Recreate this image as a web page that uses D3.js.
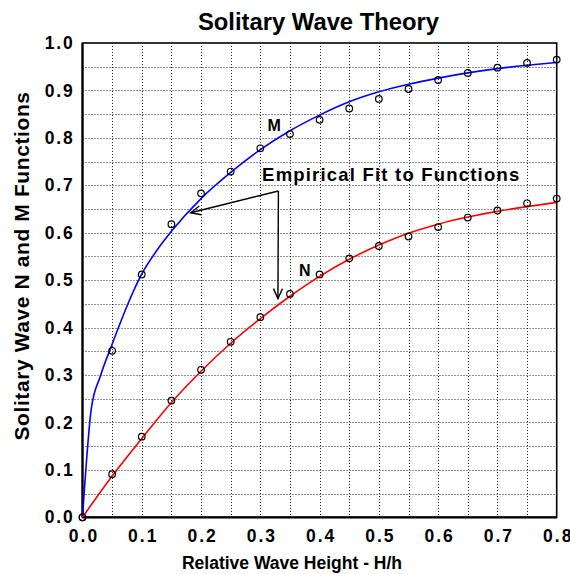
<!DOCTYPE html>
<html>
<head>
<meta charset="utf-8">
<script src="https://cdn.jsdelivr.net/npm/d3@7/dist/d3.min.js"></script>
<style>
  html, body { margin: 0; padding: 0; background: #fff; }
  svg { display: block; font-family: "Liberation Sans", Arial, Helvetica, sans-serif; }
</style>
</head>
<body>
<svg id="chart" width="570" height="574"></svg>
<script>
// ---- data ----
const xTicks = [0.0, 0.1, 0.2, 0.3, 0.4, 0.5, 0.6, 0.7, 0.8];
const yTicks = [0.0, 0.1, 0.2, 0.3, 0.4, 0.5, 0.6, 0.7, 0.8, 0.9, 1.0];
const gridStep = 0.05;

// measured points (open circles)
const measX = [0, 0.05, 0.1, 0.15, 0.2, 0.25, 0.3, 0.35, 0.4, 0.45, 0.5, 0.55, 0.6, 0.65, 0.7, 0.75, 0.8];
const measM = [0, 0.351, 0.512, 0.618, 0.683, 0.729, 0.778, 0.808, 0.838, 0.862, 0.882, 0.903, 0.922, 0.937, 0.948, 0.958, 0.965];
const measN = [0, 0.091, 0.170, 0.246, 0.311, 0.370, 0.422, 0.471, 0.512, 0.546, 0.572, 0.592, 0.612, 0.632, 0.647, 0.662, 0.672];

// empirical fit curves
const fitMX = [0, 0.015, 0.03, 0.05, 0.075, 0.1, 0.125, 0.15, 0.2, 0.25, 0.3, 0.35, 0.4, 0.45, 0.5, 0.55, 0.6, 0.65, 0.7, 0.75, 0.8];
const fitM  = [0, 0.23, 0.297, 0.365, 0.445, 0.513, 0.562, 0.603, 0.672, 0.727, 0.775, 0.815, 0.848, 0.876, 0.897, 0.913, 0.926, 0.937, 0.946, 0.953, 0.959];
const fitNX = [0, 0.05, 0.1, 0.15, 0.2, 0.25, 0.3, 0.35, 0.4, 0.45, 0.5, 0.55, 0.6, 0.65, 0.7, 0.75, 0.8];
const fitN  = [0, 0.087, 0.166, 0.242, 0.308, 0.367, 0.419, 0.466, 0.508, 0.544, 0.574, 0.599, 0.618, 0.633, 0.645, 0.655, 0.664];

// annotation anchors in data units
const labelM = [0.3235, 0.827];
const labelN = [0.375, 0.520];
const noteText = "Empirical Fit to Functions";
const notePos = [0.303, 0.723];
const arrowVertex = [0.3305, 0.688];
const arrowTipM = [0.1825, 0.642];
const arrowTipN = [0.3297, 0.461];

// ---- layout ----
const W = 570, H = 574;
const pLeft = 82.5, pRight = 556.7, pTop = 43, pBottom = 517.3;

const svg = d3.select("#chart");
const x = d3.scaleLinear().domain([0, 0.8]).range([pLeft, pRight]);
const y = d3.scaleLinear().domain([0, 1.0]).range([pBottom, pTop]);

// grid
const gx = d3.range(1, Math.round(0.8 / gridStep)).map(i => i * gridStep);
const gy = d3.range(1, Math.round(1.0 / gridStep)).map(i => i * gridStep);
const grid = svg.append("g").attr("stroke", "#222").attr("stroke-width", 1).attr("stroke-dasharray", "1,2");
grid.selectAll("line.v").data(gx).join("line").attr("class", "v")
  .attr("x1", d => Math.round(x(d)) + 0.5).attr("x2", d => Math.round(x(d)) + 0.5)
  .attr("y1", pTop).attr("y2", pBottom);
grid.selectAll("line.h").data(gy).join("line").attr("class", "h")
  .attr("y1", d => Math.round(y(d)) + 0.5).attr("y2", d => Math.round(y(d)) + 0.5)
  .attr("x1", pLeft).attr("x2", pRight);

// frame
svg.append("rect").attr("x", pLeft).attr("y", pTop).attr("width", pRight - pLeft).attr("height", pBottom - pTop)
  .attr("fill", "none").attr("stroke", "#000").attr("stroke-width", 1.6);
svg.append("line").attr("x1", pLeft).attr("x2", pLeft).attr("y1", pTop).attr("y2", pBottom).attr("stroke", "#000").attr("stroke-width", 2.2);
svg.append("line").attr("x1", pLeft).attr("x2", pRight).attr("y1", pBottom).attr("y2", pBottom).attr("stroke", "#000").attr("stroke-width", 2.2);

// axes (labels only)
const xAxis = svg.append("g").attr("transform", `translate(0,${pBottom})`)
  .call(d3.axisBottom(x).tickValues(xTicks).tickFormat(d3.format(".1f")).tickSize(0).tickPadding(12));
xAxis.select(".domain").remove();
xAxis.selectAll("text").attr("font-size", 17.5).attr("font-weight", "bold").attr("fill", "#000")
  .attr("font-family", "'Liberation Sans', Arial, sans-serif").style("letter-spacing", "2px").attr("dx", "1px");

const yAxis = svg.append("g").attr("transform", `translate(${pLeft},0)`)
  .call(d3.axisLeft(y).tickValues(yTicks).tickFormat(d3.format(".1f")).tickSize(0).tickPadding(9));
yAxis.select(".domain").remove();
yAxis.selectAll("text").attr("font-size", 17.5).attr("font-weight", "bold").attr("fill", "#000")
  .attr("font-family", "'Liberation Sans', Arial, sans-serif").style("letter-spacing", "1.8px").attr("dx", "1px");

// curves
const line = d3.line().x(d => x(d[0])).y(d => y(d[1])).curve(d3.curveMonotoneX);
svg.append("path").datum(fitMX.map((v, i) => [v, fitM[i]])).attr("d", line)
  .attr("fill", "none").attr("stroke", "#0000ff").attr("stroke-width", 1.6);
svg.append("path").datum(fitNX.map((v, i) => [v, fitN[i]])).attr("d", line)
  .attr("fill", "none").attr("stroke", "#ff0000").attr("stroke-width", 1.6);

// measured points
const pts = svg.append("g").attr("fill", "none").attr("stroke", "#000").attr("stroke-width", 1.2);
pts.selectAll("circle.m").data(measX.map((v, i) => [v, measM[i]])).join("circle").attr("class", "m")
  .attr("cx", d => x(d[0])).attr("cy", d => y(d[1])).attr("r", 3.3);
pts.selectAll("circle.n").data(measX.map((v, i) => [v, measN[i]])).join("circle").attr("class", "n")
  .attr("cx", d => x(d[0])).attr("cy", d => y(d[1])).attr("r", 3.3);

// arrows
const defs = svg.append("defs");
defs.append("marker").attr("id", "ah").attr("viewBox", "-12 -6 14 12").attr("refX", 0).attr("refY", 0)
  .attr("markerWidth", 14).attr("markerHeight", 12).attr("markerUnits", "userSpaceOnUse").attr("orient", "auto")
  .append("path").attr("d", "M-10,-4.5 L0,0 L-10,4.5").attr("fill", "none").attr("stroke", "#000").attr("stroke-width", 1.4);
[arrowTipM, arrowTipN].forEach(t => {
  svg.append("line").attr("x1", x(arrowVertex[0])).attr("y1", y(arrowVertex[1]))
    .attr("x2", x(t[0])).attr("y2", y(t[1]))
    .attr("stroke", "#000").attr("stroke-width", 1.4).attr("marker-end", "url(#ah)");
});

// labels
svg.append("text").attr("x", x(labelM[0])).attr("y", y(labelM[1])).attr("dy", "0.36em")
  .attr("text-anchor", "middle").attr("font-size", 16).attr("font-weight", "bold").text("M");
svg.append("text").attr("x", x(labelN[0])).attr("y", y(labelN[1])).attr("dy", "0.36em")
  .attr("text-anchor", "middle").attr("font-size", 16).attr("font-weight", "bold").text("N");
svg.append("text").attr("x", x(notePos[0])).attr("y", y(notePos[1])).attr("dy", "0.36em")
  .attr("font-size", 18.5).attr("font-weight", "bold").style("letter-spacing", "1.2px").text(noteText);

// titles
svg.append("text").attr("x", 318.5).attr("y", 29.5).attr("text-anchor", "middle")
  .attr("font-size", 23.8).attr("font-weight", "bold").text("Solitary Wave Theory");
svg.append("text").attr("x", 292).attr("y", 569).attr("text-anchor", "middle")
  .attr("font-size", 17.5).attr("font-weight", "bold").text("Relative Wave Height - H/h");
svg.append("text").attr("transform", `translate(28.5,266) rotate(-90)`).attr("text-anchor", "middle")
  .attr("font-size", 21).attr("font-weight", "bold").style("letter-spacing", "0.6px").text("Solitary Wave N and M Functions");
</script>
</body>
</html>
